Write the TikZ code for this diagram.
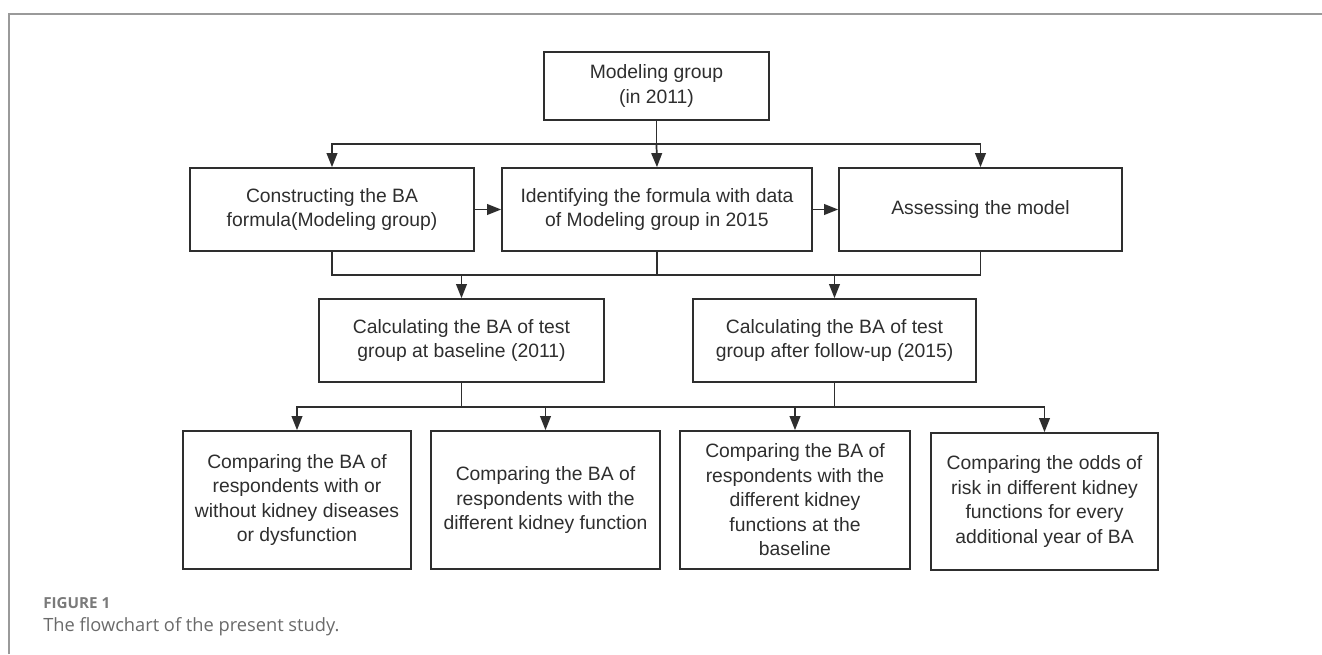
\documentclass[tikz,border=0pt]{standalone}
\usepackage{fontspec}
\setmainfont{Liberation Sans}
\newfontfamily\capfont{Open Sans}
\usetikzlibrary{arrows.meta}
\definecolor{ink}{HTML}{2E2E2E}
\definecolor{frame}{HTML}{9A9A9A}
\definecolor{capgray}{HTML}{7A7A7A}
\definecolor{captext}{HTML}{6A6A6A}
\tikzset{
  flowbox/.style={draw=ink, line width=1.3pt, align=center, inner sep=0pt,
    text=ink, font=\fontsize{14.5}{18.4}\selectfont},
  ln/.style={draw=ink, line width=1.3pt},
  arr/.style={draw=ink, line width=1.3pt, -{Triangle[length=10.5pt,width=8pt]}},
}
\begin{document}
\begin{tikzpicture}[x=0.75pt,y=-0.75pt]
\useasboundingbox (0,0) rectangle (1322,654);
% frame
\draw[frame, line width=0.9pt] (9,654) -- (9,14) -- (1322,14);
% row 1
\node[flowbox, minimum width=168.75pt, minimum height=51pt] (M) at (656.5,86) {Modeling group\\(in 2011)};
% row 2
\node[flowbox, minimum width=213pt, minimum height=62.25pt] (A) at (332,209.5) {Constructing the BA\\formula(Modeling group)};
\node[flowbox, minimum width=232.5pt, minimum height=62.25pt] (B) at (657,209.5) {Identifying the formula with data\\of Modeling group in 2015};
\node[flowbox, minimum width=212.25pt, minimum height=62.25pt] (C) at (980.5,209.5) {Assessing the model};
% row 3
\node[flowbox, minimum width=213.75pt, minimum height=62.25pt] (L) at (461.5,340.5) {Calculating the BA of test\\group at baseline (2011)};
\node[flowbox, minimum width=212.25pt, minimum height=62.25pt] (R) at (834.5,340.5) {Calculating the BA of test\\group after follow-up (2015)};
% row 4
\node[flowbox, minimum width=171pt, minimum height=103.5pt] (D1) at (297,500) {Comparing the BA of\\respondents with or\\without kidney diseases\\or dysfunction};
\node[flowbox, minimum width=171.75pt, minimum height=103.5pt] (D2) at (545.5,500) {Comparing the BA of\\respondents with the\\different kidney function};
\node[flowbox, minimum width=172.5pt, minimum height=103.5pt] (D3) at (795,500) {Comparing the BA of\\respondents with the\\different kidney\\functions at the\\baseline};
\node[flowbox, minimum width=170.25pt, minimum height=102.75pt] (D4) at (1044.5,501.5) {Comparing the odds of\\risk in different kidney\\functions for every\\additional year of BA};
% connectors
\coordinate (j1) at (656.5,144);
\coordinate (j2) at (656.5,275);
\coordinate (j3) at (656.5,407);
\draw[ln] (M.south) -- (j1);
\draw[arr] (j1) -| (A.north);
\draw[arr] (j1) -- (B.north);
\draw[arr] (j1) -| (C.north);
\draw[arr] (A.east) -- (B.west);
\draw[arr] (B.east) -- (C.west);
\draw[ln] (A.south) -- (A.south |- j2) -- (C.south |- j2) -- (C.south);
\draw[ln] (B.south) -- (B.south |- j2);
\draw[arr] (L.north |- j2) -- (L.north);
\draw[arr] (R.north |- j2) -- (R.north);
\draw[ln] (L.south) -- (L.south |- j3);
\draw[ln] (R.south) -- (R.south |- j3);
\draw[ln] (L.south |- j3) -- (R.south |- j3);
\draw[arr] (L.south |- j3) -| (D1.north);
\draw[arr] (L.south |- j3) -| (D2.north);
\draw[arr] (R.south |- j3) -| (D3.north);
\draw[arr] (R.south |- j3) -| (D4.north);
% caption
\node[anchor=base west, inner sep=0pt, text=capgray, font=\capfont\bfseries\fontsize{11.4}{13}\selectfont] (fig) at (43,608) {FIGURE 1};
\node[anchor=base west, inner sep=0pt, text=captext, font=\capfont\fontsize{13.7}{16}\selectfont] (cap) at (43,631.5) {The flowchart of the present study.};
\end{tikzpicture}
\end{document}
